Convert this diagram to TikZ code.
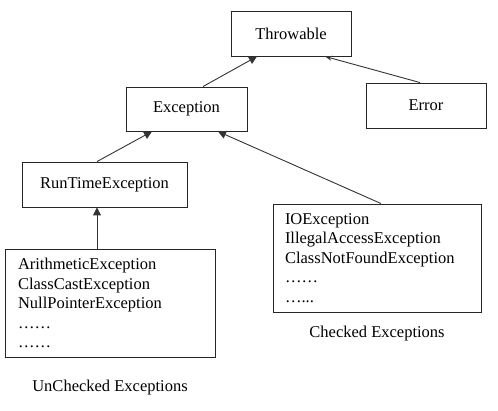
\documentclass[tikz,border=0pt]{standalone}
\usepackage{fontspec}
\setmainfont{Liberation Serif}
\usepackage{tikz}
\usetikzlibrary{positioning}
\usetikzlibrary{arrows.meta}

\begin{document}
\begin{tikzpicture}[x=1pt,y=-1pt,
    cls/.style={draw=black!85,line width=0.9pt,minimum height=45pt},
    grp/.style={draw=black!85,line width=0.9pt,align=left,minimum height=108pt,inner ysep=0pt},
    inh/.style={draw=black!80,line width=0.9pt,-{Triangle[length=8pt,width=8pt]}},
    font=\fontsize{16.5}{19.5}\selectfont]
            \useasboundingbox (0,0) rectangle (498,411);
            \node(thr) [cls,minimum width=120pt] at (291,33.5) {Throwable};
            \node(exc) [cls,minimum width=121pt,minimum height=44pt] at (186.5,109) {Exception};
            \node(err) [cls,minimum width=120pt] at (426,105.5) {Error};
            \node(rte) [cls,minimum width=165pt] at (104.5,184.5) {RunTimeException};

            \node(unc) [grp,text width=184pt,inner xsep=13pt] at (110,303)
                {ArithmeticException\\ClassCastException\\NullPointerException\\……\\……};
            \node(chk) [grp,text width=184pt,inner xsep=12pt] at (377,258)
                {IOException\\IllegalAccessException\\ClassNotFoundException\\……\\…...};

            \node(unclbl) at (110,388) {UnChecked Exceptions};
            \node(chklbl) [below=10pt of chk] {Checked Exceptions};

            \draw[inh] ([xshift=16.5pt] exc.north) -- ([xshift=-34pt] thr.south);
            \draw[draw=black!80,line width=0.9pt,-{Stealth[length=7pt,width=5pt]}] ([xshift=-6pt] err.north) -- ([xshift=34pt] thr.south);
            \draw[inh] ([xshift=-7.5pt] rte.north) -- ([xshift=-34.5pt] exc.south);
            \draw[inh] ([xshift=4pt] chk.north) -- ([xshift=31.5pt] exc.south);
            \draw[inh] ([xshift=-13pt] unc.north) -- ([xshift=-7.5pt] rte.south);
        \end{tikzpicture}
\end{document}
